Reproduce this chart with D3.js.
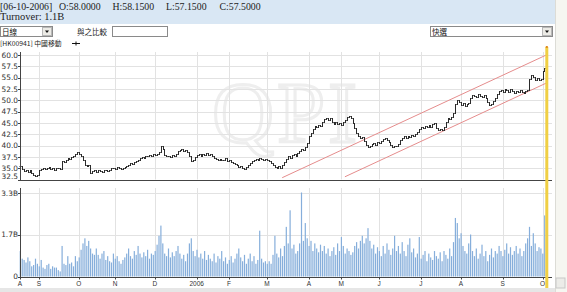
<!DOCTYPE html>
<html>
<head>
<meta charset="utf-8">
<script src="https://cdnjs.cloudflare.com/ajax/libs/d3/7.8.5/d3.min.js"></script>
<style>
body{margin:0;padding:0;background:#fff;}
svg{display:block;}
</style>
</head>
<body>
<div id="chart"></div>
<script>

var width = 567,
	height = 292,
	plot_left = 20,
	plot_right = 552,
	price_top = 52,
	price_bottom = 179.5,
	vol_top = 188,
	vol_bottom = 276.5;

// quote of the last day shown in the header

var quote_date = "[06-10-2006]";
var quote_fields = ["O:58.0000", "H:58.1500", "L:57.1500", "C:57.5000"];
var turnover_text = "Turnover: 1.1B";
var stock_name = "[HK00941] 中國移動";

// months on the time axis and the trading day where each one starts

var months = ["A", "S", "O", "N", "D", "2006", "F", "M", "A", "M", "J", "J", "A", "S", "O"];
var month_start = [0, 10, 31, 50, 71, 93, 110, 130, 152, 169, 189, 211, 232, 254, 275];

// daily closes, Aug 2005 - Oct 2006

var close = [
	35.4, 34.8, 34.3, 34.6, 34.2, 34.5, 34.0, 33.6, 33.2, 33.5,
	34.6, 34.9, 35.1, 34.8, 35.0, 35.2, 34.9, 35.0, 34.7, 35.1, 35.0, 34.8,
	36.5, 36.3, 36.9, 37.2, 37.0, 37.5, 37.8, 38.2, 38.5,
	38.1, 37.6, 36.9, 35.8, 35.5, 35.6,
	34.0, 34.3, 34.5, 34.2, 34.6, 34.4, 34.1, 34.5, 34.7, 34.4, 34.6,
	35.0, 35.1, 34.9, 35.2, 35.0, 34.8, 35.1, 35.3, 35.5,
	35.8, 36.1, 35.9, 36.4, 36.6, 36.9, 37.2,
	37.5, 37.3, 37.8, 37.6, 38.0, 37.7, 38.1, 37.9, 38.2, 38.5,
	39.8, 39.2,
	38.0, 37.6, 37.8, 37.5, 37.9, 37.7, 38.2,
	38.8, 39.0, 39.2, 38.9, 39.1, 38.6, 37.8,
	36.5, 36.8, 37.4,
	37.9, 38.1, 37.8, 38.2, 38.0, 38.3, 37.9, 38.1, 37.6, 37.3,
	37.0, 36.8, 37.1, 36.7, 36.9, 37.2, 36.6, 36.8, 36.4, 36.2, 35.9,
	35.6, 35.3, 35.5, 35.0, 34.9, 35.2, 35.6, 36.1, 36.5,
	36.9, 37.1, 36.8, 37.2, 37.0, 36.7, 37.1, 36.9, 36.6, 36.2, 35.8,
	35.3, 35.1, 35.4, 35.0, 35.6,
	36.3, 37.0, 37.6, 37.3, 37.9, 38.1, 37.8,
	38.4, 38.7, 39.2, 39.0, 39.7, 40.6,
	42.0, 42.8, 43.6, 44.4, 44.1, 44.6, 44.3,
	45.2, 45.8, 46.1, 45.7, 46.0,
	45.1, 44.7, 45.3, 44.8, 45.0, 44.5, 45.2, 45.6,
	46.2, 46.6, 46.0, 44.9,
	43.8, 42.8, 42.2, 41.7, 41.9, 41.0,
	40.1, 39.7, 39.9, 40.3,
	40.6, 40.2, 40.8, 40.5, 41.0,
	41.4, 41.7, 41.3, 40.8, 40.2,
	39.7, 40.0, 39.8, 40.4,
	41.2, 41.6, 42.0, 41.7, 42.2, 41.9, 42.4, 42.1, 42.6, 43.0,
	43.6, 44.1, 43.8, 44.3, 44.0, 44.5, 44.2, 44.8, 45.0,
	43.8, 43.5, 43.7, 43.4, 44.2,
	45.3, 46.1, 45.8, 46.3, 47.2,
	49.2, 50.1,
	49.6, 49.0, 49.3, 48.7, 49.1, 49.5,
	50.6, 51.2, 51.0, 50.7, 51.3, 51.0, 50.8, 51.1, 50.5,
	49.6, 49.0, 49.2, 49.8, 50.6,
	51.4, 52.0, 52.3, 51.9, 52.6, 52.2, 51.8, 52.4, 52.0,
	51.6, 52.1, 51.8, 52.3, 51.9, 51.5, 52.0, 52.2,
	54.8, 55.6, 55.2,
	54.4, 54.9, 54.5, 54.8,
	56.4, 57.2, 57.5
];

// daily turnover in billions

var volume = [
	1.0, 0.7, 0.65, 0.55, 0.75, 0.6, 0.4, 0.45, 0.7, 0.5,
	0.4, 0.65, 0.35, 0.3, 0.45, 0.5, 0.3, 0.4, 0.35, 0.35,
	0.25, 0.2, 1.2, 0.5, 0.45, 0.8, 0.5, 0.55, 0.4, 0.8,
	0.6, 0.75, 1.05, 1.3, 1.5, 1.2, 1.4, 1.1, 0.9, 0.85,
	1.1, 0.85, 0.7, 0.9, 1.0, 0.65, 0.8, 0.6, 0.55, 0.9,
	0.7, 0.8, 0.6, 0.5, 0.65, 0.75, 0.9, 1.1, 0.8, 0.7,
	1.0, 0.85, 1.2, 0.9, 0.75, 0.95, 0.8, 1.05, 0.7, 0.9,
	0.85, 1.0, 1.25, 1.6, 2.0, 1.3, 0.9, 0.8, 1.1, 0.75,
	0.95, 0.8, 1.0, 1.2, 0.9, 0.7, 0.85, 0.6, 0.9, 1.3,
	1.5, 1.0, 0.8, 1.05, 0.75, 0.9, 0.7, 1.0, 0.65, 0.85,
	0.7, 0.6, 0.9, 0.55, 0.8, 0.7, 1.0, 0.6, 0.75, 0.5,
	0.65, 0.8, 0.55, 0.7, 0.9, 1.1, 0.75, 0.6, 0.85, 0.5,
	0.7, 0.9, 0.6, 0.8, 0.5, 0.65, 1.8, 0.7, 0.55, 0.6, 0.5,
	0.6, 0.5, 0.85, 1.6, 0.9, 0.75, 1.1, 0.8, 1.2, 1.95,
	1.3, 2.6, 1.1, 1.25, 0.9, 1.0, 1.3, 3.3, 1.4, 2.1,
	1.5, 1.2, 1.4, 1.0, 1.3, 1.1, 0.95, 1.25, 1.0, 1.2,
	0.9, 1.1, 0.8, 1.0, 1.15, 0.85, 1.3, 1.0, 1.55, 1.2,
	0.9, 1.1, 1.0, 0.85, 0.95, 1.2, 1.35, 1.1, 1.4, 1.6,
	1.3, 1.5, 1.9, 1.4, 1.1, 1.25, 0.9, 1.15, 1.0, 0.8,
	1.2, 0.9, 1.3, 1.05, 0.85, 1.1, 1.6, 1.0, 1.2, 0.9,
	1.35, 1.0, 0.8, 1.25, 1.5, 0.95, 1.1, 0.75, 0.9, 1.55,
	0.7, 0.85, 1.0, 0.6, 0.9, 0.75, 0.65, 1.0, 0.8, 0.7,
	0.95, 0.6, 1.0, 0.85, 0.7, 1.1, 0.8, 1.35, 2.3, 2.1,
	1.5, 1.7, 1.2, 1.0, 0.9, 1.3, 1.65, 1.0, 0.8, 1.1,
	0.7, 0.9, 1.25, 0.8, 1.0, 0.6, 0.85, 1.1, 0.75, 1.0,
	0.9, 1.2, 1.0, 0.8, 1.05, 1.3, 0.9, 1.15, 0.85, 1.0,
	1.2, 0.9, 1.1, 0.8, 1.0, 1.3, 1.5, 1.95, 1.2, 1.7,
	1.3, 1.0, 1.15, 1.1, 0.9, 2.4, 1.1
];

// axis ticks

var price_ticks = [32.5, 35, 37.5, 40, 42.5, 45, 47.5, 50, 52.5, 55, 57.5, 60];
var vol_ticks = [0, 1.65, 3.3];
var vol_labels = ["0", "1.7B", "3.3B"];

// trend channel, [day, price]

var channel_upper = [[138, 32.9], [277, 60.0]];
var channel_lower = [[171, 33.1], [277, 53.8]];

// scales

var X = d3.scaleLinear().domain([0, 280]).range([plot_left, plot_right]);
var P = d3.scaleLinear().domain([32.5, 60]).range([price_bottom, 55]);
var V = d3.scaleLinear().domain([0, 3.3]).range([vol_bottom, 192.5]);

function crisp(v){ return Math.round(v) + 0.5; }

var svg = d3.select("#chart").append("svg")
	.attr("width", width)
	.attr("height", height)
	.style("font-family", "'Liberation Sans', Arial, sans-serif");

// header band

svg.append("rect").attr("x", 0).attr("y", 0).attr("width", 555).attr("height", 24).attr("fill", "#d9e7f4");
svg.append("rect").attr("x", 555).attr("y", 0).attr("width", 12).attr("height", height).attr("fill", "#f6f6f1");
svg.append("line").attr("x1", 555.5).attr("x2", 555.5).attr("y1", 0).attr("y2", height).attr("stroke", "#dcdcd6");
svg.append("rect").attr("x", 0).attr("y", 288).attr("width", 555).attr("height", 4).attr("fill", "#e6e6e6");
svg.append("rect").attr("x", 556).attr("y", 278).attr("width", 9).attr("height", 10).attr("fill", "#ecece8").attr("stroke", "#c8c8c8");

var head = svg.append("g").style("font-family", "'Liberation Serif', 'Times New Roman', serif").style("font-size", "9.8px").attr("fill", "#222");
head.append("text").attr("x", 0).attr("y", 9.5).text(quote_date);
head.selectAll(".q").data(quote_fields).enter().append("text")
	.attr("class", "q")
	.attr("x", function(d, i){ return 59 + i * 53.5; })
	.attr("y", 9.5)
	.text(function(d){ return d; });
head.append("text").attr("x", 0).attr("y", 19.5).style("font-size", "10.5px").text(turnover_text);

// control row

function dropdown(x, w, label){
	var g = svg.append("g");
	g.append("rect").attr("x", x + 0.5).attr("y", 26.5).attr("width", w).attr("height", 10).attr("fill", "#fff").attr("stroke", "#8a8a8a");
	g.append("rect").attr("x", x + w - 9.5).attr("y", 27.5).attr("width", 9).attr("height", 8).attr("fill", "#ecebe6").attr("stroke", "#b8b8b8");
	g.append("path").attr("d", "M" + (x + w - 7) + ",30.5h4l-2,2.5z").attr("fill", "#111");
	g.append("text").attr("x", x + 2).attr("y", 34.5).style("font-family", "'Noto Sans CJK TC', sans-serif").style("font-size", "7.5px").attr("fill", "#111").text(label);
}
dropdown(0, 52, "日線");
dropdown(430, 122, "快選");

svg.append("text").attr("x", 77).attr("y", 34.5).style("font-family", "'Noto Sans CJK TC', sans-serif").style("font-size", "7.5px").attr("fill", "#222").text("與之比較");
svg.append("rect").attr("x", 112.5).attr("y", 26.5).attr("width", 55).attr("height", 10).attr("fill", "#fff").attr("stroke", "#8a8a8a");

svg.append("text").attr("x", 0).attr("y", 45.5).style("font-family", "'Noto Sans CJK TC', sans-serif").style("font-size", "6.8px").attr("fill", "#222").text(stock_name);
svg.append("path").attr("d", "M72,43.5h8M76,41.5v4").attr("stroke", "#111").attr("stroke-width", 1);

// watermark

svg.append("text").attr("x", 212).attr("y", 142)
	.style("font-family", "'Liberation Serif', serif").style("font-size", "86px")
	.attr("fill", "none").attr("stroke", "#eeeeee").attr("stroke-width", 3)
	.attr("textLength", 145).text("QPI");

// gridlines

var grid = svg.append("g").attr("stroke", "#e2e2e2").attr("stroke-width", 1);

grid.selectAll(".hp").data(price_ticks.slice(1)).enter().append("line")
	.attr("x1", plot_left).attr("x2", plot_right)
	.attr("y1", function(d){ return crisp(P(d)); })
	.attr("y2", function(d){ return crisp(P(d)); });

grid.selectAll(".hv").data(vol_ticks.slice(1)).enter().append("line")
	.attr("x1", plot_left).attr("x2", plot_right)
	.attr("y1", function(d){ return crisp(V(d)); })
	.attr("y2", function(d){ return crisp(V(d)); });

grid.selectAll(".vp").data(month_start.slice(1)).enter().append("line")
	.attr("x1", function(d){ return crisp(X(d)); })
	.attr("x2", function(d){ return crisp(X(d)); })
	.attr("y1", price_top).attr("y2", price_bottom);

grid.selectAll(".vv").data(month_start.slice(1)).enter().append("line")
	.attr("x1", function(d){ return crisp(X(d)); })
	.attr("x2", function(d){ return crisp(X(d)); })
	.attr("y1", vol_top).attr("y2", vol_bottom);

// trend channel

var chan = d3.line().x(function(d){ return X(d[0]); }).y(function(d){ return P(d[1]); });
[channel_upper, channel_lower].forEach(function(c){
	svg.append("path").attr("d", chan(c)).attr("fill", "none").attr("stroke", "#e58c8c").attr("stroke-width", 1);
});

// price bars, open taken as previous close

var bars = svg.append("g").attr("stroke", "#2a2a2a").attr("stroke-width", 1).attr("fill", "none");
close.forEach(function(c, i){
	var o = i ? close[i - 1] : c;
	var x = crisp(X(i)), yo = Math.round(P(o)) + 0.5, yc = Math.round(P(c)) + 0.5;
	var top = Math.min(yo, yc) - 0.5, bot = Math.max(yo, yc) + 0.5;
	bars.append("path").attr("d", "M" + x + "," + top + "V" + bot + "M" + (x - 1) + "," + yo + "h1M" + x + "," + yc + "h1");
});

// volume bars

svg.append("g").selectAll("rect").data(volume).enter().append("rect")
	.attr("x", function(d, i){ return X(i) - 0.3; })
	.attr("width", 1.2)
	.attr("y", function(d){ return V(d); })
	.attr("height", function(d){ return vol_bottom - V(d); })
	.attr("fill", "#86aedb");

// axes lines

var ax = svg.append("g").attr("stroke", "#444").attr("stroke-width", 1);
ax.append("line").attr("x1", plot_left + 0.5).attr("x2", plot_left + 0.5).attr("y1", price_top).attr("y2", price_bottom + 0.5);
ax.append("line").attr("x1", plot_left).attr("x2", plot_right).attr("y1", crisp(price_bottom)).attr("y2", crisp(price_bottom));
ax.append("line").attr("x1", plot_left + 0.5).attr("x2", plot_left + 0.5).attr("y1", vol_top).attr("y2", vol_bottom + 0.5);
ax.append("line").attr("x1", plot_left).attr("x2", plot_right).attr("y1", crisp(vol_bottom)).attr("y2", crisp(vol_bottom));

// price labels

var pl = svg.append("g").style("font-family", "'DejaVu Sans', sans-serif").style("font-size", "7.4px").attr("fill", "#333");
price_ticks.forEach(function(d){
	var y = Math.min(P(d), 176.5);
	pl.append("text").attr("x", 18).attr("y", y + 2.7).attr("text-anchor", "end").text(d3.format(".1f")(d));
	ax.append("line").attr("x1", 18).attr("x2", 20).attr("y1", crisp(P(d))).attr("y2", crisp(P(d)));
});

vol_ticks.forEach(function(d, i){
	var y = Math.max(V(d), 193);
	pl.append("text").attr("x", 18).attr("y", y + 2.7).attr("text-anchor", "end").text(vol_labels[i]);
	ax.append("line").attr("x1", 18).attr("x2", 20).attr("y1", crisp(V(d))).attr("y2", crisp(V(d)));
});

// month labels

svg.append("g").selectAll("text").data(months).enter().append("text")
	.attr("x", function(d, i){ return X(month_start[i]); })
	.attr("y", 286)
	.attr("text-anchor", "middle")
	.style("font-size", "6.5px")
	.attr("fill", "#333")
	.text(function(d){ return d; });

svg.append("g").selectAll("line").data(month_start).enter().append("line")
	.attr("x1", function(d){ return crisp(X(d)); })
	.attr("x2", function(d){ return crisp(X(d)); })
	.attr("y1", vol_bottom + 0.5).attr("y2", vol_bottom + 3)
	.attr("stroke", "#444");

// marker for the selected day

var last = close.length - 1;
svg.append("line")
	.attr("x1", X(last) + 0.5).attr("x2", X(last) + 0.5)
	.attr("y1", 47).attr("y2", 288)
	.attr("stroke", "#f0cf44").attr("stroke-width", 3);
svg.append("rect").attr("x", X(last) - 0.5).attr("y", 46).attr("width", 2).attr("height", 2).attr("fill", "#e08a20");

</script>
</body>
</html>
